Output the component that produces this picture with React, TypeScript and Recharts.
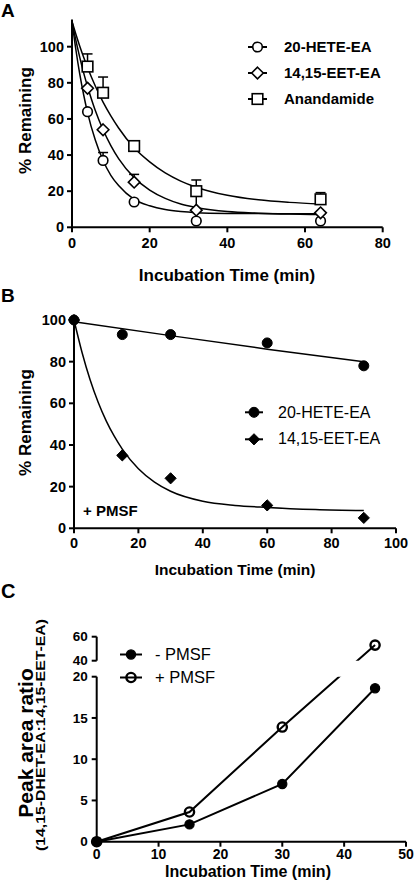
import React from 'react';
import {
  ComposedChart,
  Line,
  Scatter,
  XAxis,
  YAxis,
  ErrorBar,
  Legend,
  Label,
  ReferenceLine,
  ReferenceArea,
} from 'recharts';

const FONT = '"Liberation Sans", Arial, Helvetica, sans-serif';

// ---- A: no inhibitor ----
const timeA = [4, 8, 16, 32, 64];
const heteA = [64, 37, 14, 3.5, 3.5];
const heteErrA = [0, 4.4, 0, 6, 4];
const eetA = [77, 54, 25, 9.5, 8];
const eetErrA = [0, 0, 4.3, 10, 0];
const aeaA = [89, 74.5, 45, 20, 15.5];
const aeaErrA = [7, 8.7, 0, 6.2, 3.7];

// fitted decay curves
const fitTimeA = [0, 1, 2, 3, 4, 6, 8, 10, 12, 16, 20, 24, 28, 32, 40, 48, 56, 64];
const heteFitA = [114, 98.3, 84.8, 73.4, 63.5, 48.3, 37, 28.8, 23.1, 15.5, 11.9, 9.8, 8.7, 8.1, 7.7, 7.6, 7.5, 7.5];
const eetFitA = [114, 103.5, 94.1, 85.5, 78, 64.7, 54, 45.2, 38, 27.5, 20.6, 16, 12.9, 11, 8.7, 7.8, 7.3, 7.1];
const aeaFitA = [114, 106.9, 100.3, 94.2, 88.5, 78.2, 69.3, 61.7, 55, 44, 36.2, 30.1, 25.6, 22.2, 17.7, 15.2, 13.8, 12.9];

// ---- B: + PMSF ----
const timeB = [0, 15, 30, 60, 90];
const heteB = [100, 93, 93, 89, 78];
const eetB = [100, 35, 24, 11, 5];
const heteFitTimeB = [0, 30, 60, 90];
const heteFitB = [99.2, 92.5, 86, 80];
const eetFitTimeB = [0, 2.5, 5, 7.5, 10, 12.5, 15, 20, 25, 30, 40, 50, 60, 75, 90];
const eetFitB = [100, 84.4, 71.3, 60.5, 51.6, 44.2, 38, 28.6, 22.2, 17.8, 13, 11, 10, 9, 8.5];

// ---- C: DHET-EA formation ----
const timeC = [0, 15, 30, 45];
const minusPmsfC = [0, 2.1, 7.0, 18.6];
const plusPmsfC = [0, 3.6, 13.9, 53];
const yTicksC = [0, 5, 10, 15, 20, 40, 60];
const breakKnotsC = [0, 20, 40, 60];

const tickStyle = (size: number) => ({ fill: '#000', fontSize: size, fontWeight: 700, fontFamily: FONT });
const axisLine = { stroke: '#000', strokeWidth: 2 };

type MarkFn = (cx: number, cy: number) => React.ReactElement;
const circle = (r: number, fill: string, sw: number): MarkFn => (cx, cy) => (
  <circle cx={cx} cy={cy} r={r} fill={fill} stroke="#000" strokeWidth={sw} />
);
const diamond = (h: number, fill: string, sw: number): MarkFn => (cx, cy) => (
  <path d={`M${cx} ${cy - h}L${cx + h} ${cy}L${cx} ${cy + h}L${cx - h} ${cy}Z`} fill={fill} stroke="#000" strokeWidth={sw} />
);
const square = (h: number, fill: string, sw: number): MarkFn => (cx, cy) => (
  <rect x={cx - h} y={cy - h} width={2 * h} height={2 * h} fill={fill} stroke="#000" strokeWidth={sw} />
);

const markA = { hete: circle(4.8, '#fff', 1.6), eet: diamond(5.8, '#fff', 1.6), aea: square(5.3, '#fff', 1.6) };
const markB = { hete: circle(5, '#000', 1), eet: diamond(5.6, '#000', 1) };
const markC = { minus: circle(4.6, '#000', 1.2), plus: circle(4.6, 'none', 2.4) };

type Row = { label: string; mark: MarkFn };
function Key({ rows, iconW, gap, rowH, size, weight }: { rows: Row[]; iconW: number; gap: number; rowH: number; size: number; weight: number }) {
  return (
    <div style={{ fontFamily: FONT, fontSize: size, fontWeight: weight, color: '#000' }}>
      {rows.map((r) => (
        <div key={r.label} style={{ display: 'flex', alignItems: 'center', height: rowH, whiteSpace: 'nowrap' }}>
          <svg width={iconW} height={rowH} style={{ marginRight: gap, overflow: 'visible' }}>
            <line x1={0} x2={iconW} y1={rowH / 2} y2={rowH / 2} stroke="#000" strokeWidth={2} />
            {r.mark(iconW / 2, rowH / 2)}
          </svg>
          <span>{r.label}</span>
        </div>
      ))}
    </div>
  );
}

// piecewise-linear scale for the broken y axis of panel C
function brokenScale(knots: number[], fracs: number[]): any {
  let dom = [knots[0], knots[knots.length - 1]];
  let rng = [0, 1];
  const frac = (v: number) => {
    let i = 1;
    while (i < knots.length - 1 && v > knots[i]) i++;
    const k0 = knots[i - 1];
    const k1 = knots[i];
    return fracs[i - 1] + ((v - k0) / (k1 - k0)) * (fracs[i] - fracs[i - 1]);
  };
  const s: any = (v: number) => rng[0] + (rng[1] - rng[0]) * frac(Number(v));
  s.domain = (d?: number[]) => {
    if (!d) return dom.slice();
    dom = d.slice();
    return s;
  };
  s.range = (r?: number[]) => {
    if (!r) return rng.slice();
    rng = r.slice();
    return s;
  };
  s.copy = () => brokenScale(knots, fracs).domain(dom).range(rng);
  s.ticks = () => knots.slice();
  s.tickFormat = () => (v: number) => String(v);
  s.invert = (p: number) => {
    const f = (p - rng[0]) / (rng[1] - rng[0]);
    let i = 1;
    while (i < fracs.length - 1 && f > fracs[i]) i++;
    return knots[i - 1] + ((f - fracs[i - 1]) / (fracs[i] - fracs[i - 1])) * (knots[i] - knots[i - 1]);
  };
  s.clamp = () => s;
  s.nice = () => s;
  return s;
}

function PanelA() {
  const pts = (v: number[], e: number[]) => timeA.map((t, i) => ({ t, v: v[i], e: [0, e[i]] }));
  const fit = (v: number[]) => fitTimeA.map((t, i) => ({ t, v: v[i] }));
  const errProps = { dataKey: 'e', direction: 'y' as const, width: 5, stroke: '#000', strokeWidth: 1.5 };
  return (
    <ComposedChart width={414} height={290} margin={{ top: 19.6, right: 31.3, left: 22, bottom: 12.7 }}>
      <XAxis type="number" dataKey="t" domain={[0, 80]} ticks={[0, 20, 40, 60, 80]} height={50}
        axisLine={axisLine} tickLine={axisLine} tickSize={5} tickMargin={5} tick={tickStyle(14.5)}>
        <Label content={() => (
          <text x={227} y={280.5} textAnchor="middle" fontFamily={FONT} fontWeight={700} fontSize={17}>Incubation Time (min)</text>
        )} />
      </XAxis>
      <YAxis type="number" domain={[0, 115]} ticks={[0, 20, 40, 60, 80, 100]} width={50} interval={0}
        axisLine={axisLine} tickLine={axisLine} tickSize={5} tickMargin={3} tick={tickStyle(14.5)}>
        <Label content={() => (
          <text transform="translate(30.5,120.5) rotate(-90)" textAnchor="middle" fontFamily={FONT} fontWeight={700} fontSize={17}>% Remaining</text>
        )} />
      </YAxis>
      <Line data={fit(heteFitA)} dataKey="v" type="monotone" dot={false} stroke="#000" strokeWidth={1.5} isAnimationActive={false} legendType="none" />
      <Line data={fit(eetFitA)} dataKey="v" type="monotone" dot={false} stroke="#000" strokeWidth={1.5} isAnimationActive={false} legendType="none" />
      <Line data={fit(aeaFitA)} dataKey="v" type="monotone" dot={false} stroke="#000" strokeWidth={1.5} isAnimationActive={false} legendType="none" />
      <Scatter data={pts(heteA, heteErrA)} dataKey="v" shape={(p: any) => markA.hete(p.cx, p.cy)} isAnimationActive={false}>
        <ErrorBar {...errProps} />
      </Scatter>
      <Scatter data={pts(eetA, eetErrA)} dataKey="v" shape={(p: any) => markA.eet(p.cx, p.cy)} isAnimationActive={false}>
        <ErrorBar {...errProps} />
      </Scatter>
      <Scatter data={pts(aeaA, aeaErrA)} dataKey="v" shape={(p: any) => markA.aea(p.cx, p.cy)} isAnimationActive={false}>
        <ErrorBar {...errProps} />
      </Scatter>
      <Legend layout="vertical" align="center" verticalAlign="middle" wrapperStyle={{ left: 248, top: 33.7, width: 'auto' }}
        content={() => (
          <Key iconW={19} gap={17} rowH={26} size={15} weight={700} rows={[
            { label: '20-HETE-EA', mark: markA.hete },
            { label: '14,15-EET-EA', mark: markA.eet },
            { label: 'Anandamide', mark: markA.aea },
          ]} />
        )} />
    </ComposedChart>
  );
}

function PanelB() {
  const pts = (v: number[]) => timeB.map((t, i) => ({ t, v: v[i] }));
  return (
    <ComposedChart width={414} height={300} margin={{ top: 30, right: 18, left: 24, bottom: 11.7 }}>
      <XAxis type="number" dataKey="t" domain={[0, 100]} ticks={[0, 20, 40, 60, 80, 100]} height={50}
        axisLine={axisLine} tickLine={axisLine} tickSize={5} tickMargin={4} tick={tickStyle(14.5)}>
        <Label content={() => (
          <text x={235} y={285} textAnchor="middle" fontFamily={FONT} fontWeight={700} fontSize={15.5}>Incubation Time (min)</text>
        )} />
      </XAxis>
      <YAxis type="number" domain={[0, 100]} ticks={[0, 20, 40, 60, 80, 100]} width={50} interval={0}
        axisLine={axisLine} tickLine={axisLine} tickSize={5} tickMargin={3} tick={tickStyle(14.5)}>
        <Label content={() => (
          <text transform="translate(30.5,132.5) rotate(-90)" textAnchor="middle" fontFamily={FONT} fontWeight={700} fontSize={17}>% Remaining</text>
        )} />
      </YAxis>
      <Line data={heteFitTimeB.map((t, i) => ({ t, v: heteFitB[i] }))} dataKey="v" type="monotone" dot={false}
        stroke="#000" strokeWidth={1.5} isAnimationActive={false} legendType="none" />
      <Line data={eetFitTimeB.map((t, i) => ({ t, v: eetFitB[i] }))} dataKey="v" type="monotone" dot={false}
        stroke="#000" strokeWidth={1.5} isAnimationActive={false} legendType="none" />
      <Scatter data={pts(heteB)} dataKey="v" shape={(p: any) => markB.hete(p.cx, p.cy)} isAnimationActive={false} />
      <Scatter data={pts(eetB)} dataKey="v" shape={(p: any) => markB.eet(p.cx, p.cy)} isAnimationActive={false} />
      <Legend layout="vertical" align="center" verticalAlign="middle" wrapperStyle={{ left: 245, top: 109.4, width: 'auto' }}
        content={() => (
          <Key iconW={18} gap={15} rowH={26.6} size={16} weight={400} rows={[
            { label: '20-HETE-EA', mark: markB.hete },
            { label: '14,15-EET-EA', mark: markB.eet },
          ]} />
        )} />
    </ComposedChart>
  );
}

function PanelC() {
  // lower 0-20 segment takes 165px, gap 16px, upper 40-60 segment 24px
  const yScale = brokenScale(breakKnotsC, [0, 165 / 205, 181 / 205, 1]);
  const dotOf = (m: MarkFn) => (p: any) => <g key={p.index}>{m(p.cx, p.cy)}</g>;
  return (
    <ComposedChart width={414} height={311} margin={{ top: 56.7, right: 8, left: 46.7, bottom: 4.3 }}>
      <XAxis type="number" dataKey="t" domain={[0, 50]} ticks={[0, 10, 20, 30, 40, 50]} height={45}
        axisLine={axisLine} tickLine={axisLine} tickSize={5} tickMargin={2} tick={tickStyle(14)}>
        <Label content={() => (
          <text x={248} y={297} textAnchor="middle" fontFamily={FONT} fontWeight={700} fontSize={16}>Incubation Time (min)</text>
        )} />
      </XAxis>
      <YAxis type="number" scale={yScale} domain={[0, 60]} ticks={yTicksC} width={50} interval={0}
        axisLine={false} tickLine={axisLine} tickSize={5} tickMargin={4} tick={tickStyle(13.5)}>
        <Label content={() => (
          <g fontFamily={FONT} fontWeight={700}>
            <text transform="translate(33,163) rotate(-90)" textAnchor="middle" fontSize={21}>Peak area ratio</text>
            <text transform="translate(44.5,155) rotate(-90)" textAnchor="middle" fontSize={13} textLength={232} lengthAdjust="spacingAndGlyphs">(14,15-DHET-EA:14,15-EET-EA)</text>
          </g>
        )} />
      </YAxis>
      <ReferenceLine segment={[{ x: 0, y: 0 }, { x: 0, y: 20 }]} stroke="#000" strokeWidth={2} ifOverflow="visible" />
      <ReferenceLine segment={[{ x: 0, y: 40 }, { x: 0, y: 60 }]} stroke="#000" strokeWidth={2} ifOverflow="visible" />
      <Line data={timeC.map((t, i) => ({ t, v: minusPmsfC[i] }))} dataKey="v" type="linear" stroke="#000" strokeWidth={2}
        dot={dotOf(markC.minus)} isAnimationActive={false} />
      <Line data={timeC.map((t, i) => ({ t, v: plusPmsfC[i] }))} dataKey="v" type="linear" stroke="#000" strokeWidth={2}
        dot={dotOf(markC.plus)} isAnimationActive={false} />
      <ReferenceArea x1={34} x2={44} y1={20} y2={40} fill="#fff" fillOpacity={1} stroke="none" zIndex={2000} />
      <Legend layout="vertical" align="center" verticalAlign="middle" wrapperStyle={{ left: 120, top: 62.8, width: 'auto' }}
        content={() => (
          <Key iconW={22} gap={13} rowH={23} size={16.5} weight={400} rows={[
            { label: '- PMSF', mark: markC.minus },
            { label: '+ PMSF', mark: markC.plus },
          ]} />
        )} />
    </ComposedChart>
  );
}

export default function App() {
  return (
    <div style={{ position: 'absolute', left: 0, top: 0, width: 414, height: 891, background: '#fff' }}>
      <div style={{ position: 'absolute', left: 0, top: 0 }}><PanelA /></div>
      <div style={{ position: 'absolute', left: 0, top: 290 }}><PanelB /></div>
      <div style={{ position: 'absolute', left: 0, top: 580 }}><PanelC /></div>
      <svg width={414} height={891} style={{ position: 'absolute', left: 0, top: 0, pointerEvents: 'none' }}
        fontFamily={FONT} fontWeight={700}>
        <text x={1} y={17} fontSize={19}>A</text>
        <text x={1} y={302} fontSize={19}>B</text>
        <text x={1} y={598} fontSize={20}>C</text>
        <text x={83} y={515.5} fontSize={15}>+ PMSF</text>
      </svg>
    </div>
  );
}
